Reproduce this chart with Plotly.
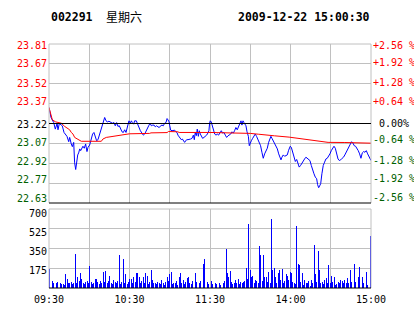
import plotly.graph_objects as go

# ---------------- data ----------------
prev_close = 23.22
pct_levels = [-2.56, -1.92, -1.28, -0.64, 0.00, 0.64, 1.28, 1.92, 2.56]
price_ticks = ["22.63", "22.77", "22.92", "23.07", "23.22", "23.37", "23.52", "23.67", "23.81"]
pct_ticks = ["-2.56 %", "-1.92 %", "-1.28 %", "-0.64 %", "\u00a00.00%", "+0.64 %", "+1.28 %", "+1.92 %", "+2.56 %"]
time_labels = ["09:30", "", "10:30", "", "11:30", "", "14:00", "", "15:00"]
vol_ticks = [175, 350, 525, 700]

# price line: minute offset from 09:30 (trading minutes) and price
price_min = [0, 1.5, 3.5, 4.7, 6.0, 6.7, 7.7, 8.7, 9.9, 11.2, 12.4, 13.4, 14.7, 15.4, 16.6, 17.4, 18.4, 19.1, 19.9, 20.6,
             21.4, 22.1, 22.9, 23.6, 24.3, 25.3, 26.3, 27.3, 28.3, 29.1, 30.3, 31.5, 32.5, 33.5, 34.5, 35.5, 36.5, 37.5, 38.5, 39.5,
             40.5, 41.5, 42.5, 43.5, 44.7, 45.9, 47.2, 48.4, 49.4, 50.4, 51.4, 52.4, 53.4, 54.4, 55.4, 56.4, 57.4, 58.4,
             59.6, 60.6, 61.4, 62.1, 63.1, 63.8, 65.1, 65.8, 66.8, 68.1, 69.3, 70.3, 71.3, 72.3, 73.3, 74.3, 75.3, 76.3, 77.3, 78.3,
             79.2, 80.2, 81.2, 82.2, 83.2, 84.2, 85.2, 86.2, 87.2, 88.0, 88.7, 89.5, 90.0, 90.7, 91.7, 92.7, 93.7, 94.4, 95.4, 96.1,
             96.9, 97.9, 98.6, 99.4, 100.4, 101.1, 101.8, 102.6, 103.6, 104.6, 105.6, 106.6, 107.6, 108.3, 109.0, 109.8, 110.5, 111.3,
             112.0, 112.8, 113.5, 114.5, 115.5, 116.5, 117.5, 118.5, 119.2, 119.7, 120.2,
             120.9, 121.7, 122.7, 123.5, 124.5, 125.4, 126.4, 127.4, 128.4, 129.4, 130.4, 131.4, 132.4, 133.4, 134.4, 135.4, 136.4,
             137.4, 138.3, 139.3, 140.3, 141.3, 142.3, 143.1, 143.8, 144.6, 145.3, 146.1, 146.8, 147.6, 148.6, 149.3, 150.0, 150.8,
             151.8, 152.7, 153.7, 154.7, 155.7, 156.7, 157.7, 158.7, 159.7, 160.7, 161.7, 162.7, 163.7, 164.7, 165.4, 166.2, 167.2,
             168.2, 169.2, 170.2, 171.2, 172.1, 172.9, 173.6, 174.6, 175.6, 176.6, 177.6, 178.6,
             179.8, 180.6, 181.3, 182.1, 182.8, 183.6, 184.6, 185.5, 186.5, 187.5, 188.5, 189.5, 190.5, 191.5, 192.5, 193.5, 194.5,
             195.5, 196.5, 197.5, 198.5, 199.5, 200.2, 201.0, 201.7, 202.5, 203.4, 204.4, 205.4, 206.4, 207.4, 208.4, 209.4, 210.4,
             211.4, 212.4, 213.4, 214.4, 215.4, 216.4, 217.4, 218.5, 219.5, 220.5, 221.5, 222.5, 223.5, 224.5, 225.5, 226.5, 227.5,
             228.5, 229.5, 230.5, 231.5, 232.5, 233.5, 234.5, 235.5, 236.5, 237.5, 238.5, 239.5, 240]
price = [23.34, 23.265, 23.227, 23.178, 23.22, 23.173, 23.22, 23.213, 23.203, 23.153, 23.133, 23.124, 23.084, 23.116, 23.067, 23.047, 23.079, 22.926, 22.876, 22.943,
         22.985, 23.0, 23.03, 23.017, 23.035, 23.05, 23.035, 23.067, 23.01, 23.042, 23.059, 23.099, 23.141, 23.153, 23.124, 23.091, 23.099, 23.133, 23.158, 23.183,
         23.227, 23.265, 23.24, 23.232, 23.237, 23.232, 23.222, 23.227, 23.203, 23.227, 23.198, 23.203, 23.183, 23.158, 23.153, 23.173, 23.153, 23.203,
         23.24, 23.222, 23.24, 23.227, 23.215, 23.24, 23.24, 23.222, 23.19, 23.166, 23.148, 23.133, 23.141, 23.158, 23.183, 23.203, 23.222, 23.203, 23.208, 23.208,
         23.195, 23.203, 23.195, 23.19, 23.203, 23.208, 23.203, 23.222, 23.227, 23.257, 23.247, 23.232, 23.203, 23.17, 23.166, 23.166, 23.17, 23.16, 23.153, 23.133,
         23.124, 23.109, 23.099, 23.104, 23.091, 23.079, 23.089, 23.099, 23.099, 23.099, 23.104, 23.109, 23.133, 23.099, 23.153, 23.129, 23.178, 23.124,
         23.166, 23.141, 23.124, 23.109, 23.116, 23.124, 23.133, 23.15, 23.166, 23.222, 23.24,
         23.232, 23.208, 23.166, 23.141, 23.133, 23.141, 23.133, 23.153, 23.166, 23.148, 23.153, 23.133, 23.116, 23.128, 23.133, 23.141, 23.158,
         23.148, 23.166, 23.19, 23.173, 23.203, 23.222, 23.24, 23.208, 23.24, 23.227, 23.215, 23.203, 23.158, 23.124, 23.054, 23.079, 23.091,
         23.109, 23.128, 23.141, 23.124, 23.104, 23.079, 23.054, 23.005, 22.96, 22.993, 23.017, 23.035, 23.079, 23.116, 23.124, 23.109, 23.091,
         23.074, 23.054, 23.03, 22.993, 22.968, 22.948, 22.968, 22.985, 22.975, 22.98, 22.985, 23.02,
         23.05, 23.042, 23.017, 23.005, 22.98, 22.936, 22.951, 22.918, 22.894, 22.906, 22.926, 22.943, 22.955, 22.968, 22.96, 22.951, 22.943,
         22.906, 22.869, 22.844, 22.819, 22.807, 22.763, 22.74, 22.753, 22.77, 22.844, 22.906, 22.931, 22.955, 22.96, 22.975, 22.993, 23.017,
         23.035, 23.05, 23.035, 22.993, 22.955, 22.943, 22.948, 22.96, 22.968, 22.985, 23.005, 23.03, 23.054, 23.074, 23.084, 23.074, 23.054,
         23.05, 23.035, 23.017, 22.993, 22.96, 23.0, 23.01, 23.005, 23.017, 22.993, 22.975, 22.955, 22.943]

# average price line
avg_min = [0, 1.2, 2.5, 5.0, 9.2, 11.7, 14.2, 15.4, 16.6, 17.9, 19.1, 21.6, 24.1, 39.0, 40.2, 42.7, 46.4, 51.4, 55.2, 60,
           75, 76, 88, 89, 96, 97, 120, 143, 150, 156, 161, 168, 179, 186, 193, 200, 208, 220, 228, 240]
avg_price = [23.339, 23.289, 23.247, 23.232, 23.222, 23.198, 23.178, 23.173, 23.153, 23.141, 23.116, 23.099, 23.087, 23.087, 23.104,
             23.116, 23.121, 23.128, 23.136, 23.143, 23.146, 23.15, 23.152, 23.16, 23.158, 23.153, 23.153, 23.15, 23.146, 23.14,
             23.133, 23.128, 23.118, 23.109, 23.099, 23.086, 23.079, 23.078, 23.074, 23.073]

# per-minute volume (241 bars)
volume = [168, 55, 62, 48, 57, 40, 52, 35, 45, 38,
          38, 30, 124, 80, 45, 40, 55, 35, 42, 301,
          48, 100, 60, 136, 80, 45, 38, 50, 62, 40,
          195, 55, 35, 42, 80, 78, 50, 38, 60, 45,
          144, 52, 153, 40, 65, 110, 48, 36, 75, 55,
          42, 60, 292, 38, 50, 257, 45, 124, 35, 52,
          80, 80, 48, 94, 55, 136, 130, 94, 40, 62,
          100, 45, 130, 106, 38, 55, 159, 71, 42, 47,
          35, 50, 42, 38, 71, 45, 30, 55, 94, 60,
          124, 145, 35, 48, 40, 65, 30, 94, 130, 42,
          71, 38, 52, 86, 94, 45, 35, 60, 100, 136,
          55, 47, 40, 62, 48, 212, 257, 50, 56, 38,
          124, 62, 35, 18, 40, 35, 22, 45, 30, 56,
          47, 60, 345, 136, 100, 153, 56, 38, 45, 71,
          42, 76, 35, 55, 40, 50, 62, 177, 80, 567,
          159, 100, 106, 45, 71, 65, 40, 372, 292, 60,
          292, 94, 94, 52, 145, 40, 611, 159, 177, 100,
          48, 136, 159, 71, 168, 41, 60, 124, 106, 71,
          145, 136, 56, 47, 38, 552, 212, 203, 55, 130,
          27, 71, 47, 40, 65, 21, 71, 45, 381, 124,
          55, 328, 159, 41, 56, 35, 71, 86, 41, 203,
          45, 106, 56, 94, 30, 38, 56, 48, 71, 65,
          40, 71, 47, 86, 41, 159, 50, 71, 212, 56,
          40, 100, 186, 130, 100, 45, 65, 145, 27, 50,
          461]

# ---------------- layout constants ----------------
W, H = 414, 314
ML, MR, MT, MB = 49, 43, 44, 26
plot_h = H - MT - MB  # 244
price_dom0 = (288 - 203) / plot_h
vol_dom1 = (288 - 209) / plot_h

RED = "#FF0000"
GREEN = "#006000"
GRID = "#C0C0C0"
MONO = "DejaVu Sans Mono"

lo = prev_close * (1 + pct_levels[0] / 100)
hi = prev_close * (1 + pct_levels[-1] / 100)
price_levels = [prev_close * (1 + p / 100) for p in pct_levels]

# small vertical nudges (px, up positive) of the labels, as in the reference
left_shift = [5, 4, 2, 1, -1, 2, 0, 0, -1]
right_shift = [6, 5, 3, 4, 0, 2, 1, 1, -1]
vol_shift = [-2, -3, -4, -4]


def color_of(p):
    return RED if p > 0 else (GREEN if p < 0 else "black")


n = len(volume)
bar_x = [(i + 0.5) * 240 / n for i in range(n)]

fig = go.Figure()
fig.add_trace(go.Scatter(x=price_min, y=price, mode="lines", line=dict(color="#0000FF", width=1),
                         xaxis="x", yaxis="y", hoverinfo="skip"))
fig.add_trace(go.Scatter(x=avg_min, y=avg_price, mode="lines", line=dict(color=RED, width=1),
                         xaxis="x", yaxis="y", hoverinfo="skip"))
fig.add_trace(go.Bar(x=bar_x, y=volume, width=0.7 * 240 / n,
                     marker=dict(color="#0000FF", line=dict(width=0)),
                     xaxis="x2", yaxis="y3", hoverinfo="skip"))

tick_font = dict(family=MONO, size=10, color="black")
grid_vals = list(range(0, 241, 30))

fig.update_layout(
    width=W, height=H,
    margin=dict(l=ML, r=MR, t=MT, b=MB, pad=0, autoexpand=False),
    paper_bgcolor="white", plot_bgcolor="white",
    showlegend=False, bargap=0,
    xaxis=dict(domain=[0, 1], anchor="y", range=[0, 240], tickvals=grid_vals, showticklabels=False,
               showgrid=True, gridcolor=GRID, gridwidth=1, zeroline=False, showline=False, ticks="",
               automargin=False),
    yaxis=dict(domain=[price_dom0, 1], range=[lo, hi], tickvals=price_levels, showticklabels=False,
               showgrid=True, gridcolor=GRID, gridwidth=1, zeroline=False, showline=False, ticks="",
               automargin=False),
    xaxis2=dict(domain=[0, 1], anchor="y3", range=[0, 240], tickvals=grid_vals, ticktext=time_labels,
                showgrid=True, gridcolor=GRID, gridwidth=1, zeroline=False, showline=False, ticks="",
                tickfont=tick_font, tickangle=0, automargin=False, ticklabelstandoff=4),
    yaxis3=dict(domain=[0, vol_dom1], range=[0, 700], tickvals=vol_ticks, showticklabels=False,
                showgrid=True, gridcolor=GRID, gridwidth=1, zeroline=False, showline=False, ticks="",
                automargin=False),
)

shapes = []
for x0, y0, x1, y1, c in [(0, 0, 0, 1, GRID), (1, 0, 1, 1, GRID), (0, 1, 1, 1, GRID), (0, 0, 1, 0, "black")]:
    shapes.append(dict(type="line", xref="paper", yref="y domain", x0=x0, x1=x1, y0=y0, y1=y1,
                       line=dict(color=c, width=1)))
shapes.append(dict(type="line", xref="paper", yref="y", x0=0, x1=1, y0=prev_close, y1=prev_close,
                   line=dict(color="black", width=1)))
for x0, y0, x1, y1, c in [(0, 0, 0, 1, GRID), (1, 0, 1, 1, GRID), (0, 1, 1, 1, GRID), (0, 0, 1, 0, "black")]:
    shapes.append(dict(type="line", xref="paper", yref="y3 domain", x0=x0, x1=x1, y0=y0, y1=y1,
                       line=dict(color=c, width=1)))
fig.update_layout(shapes=shapes)

# axis labels (price, percentage, volume)
for lvl, txt, p, s in zip(price_levels, price_ticks, pct_levels, left_shift):
    fig.add_annotation(text=txt, x=0, y=lvl, xref="paper", yref="y", xanchor="right", yanchor="middle",
                       xshift=-1, yshift=s, showarrow=False, borderpad=0,
                       font=dict(family=MONO, size=10, color=color_of(p)))
for lvl, txt, p, s in zip(price_levels, pct_ticks, pct_levels, right_shift):
    fig.add_annotation(text=txt, x=1, y=lvl, xref="paper", yref="y", xanchor="left", yanchor="middle",
                       xshift=1, yshift=s, showarrow=False, borderpad=0,
                       font=dict(family=MONO, size=10, color=color_of(p)))
for v, s in zip(vol_ticks, vol_shift):
    fig.add_annotation(text=str(v), x=0, y=v, xref="paper", yref="y3", xanchor="right", yanchor="middle",
                       xshift=-1, yshift=s, showarrow=False, borderpad=0,
                       font=dict(family=MONO, size=10, color="black"))


def px_x(px):
    return (px - ML) / (W - ML - MR)


def px_y(py):
    return (H - MB - py) / plot_h


title_font = dict(family=MONO, size=11.5, color="black")
fig.add_annotation(text="<b>002291</b>", x=px_x(50), y=px_y(16.5), xref="paper", yref="paper",
                   xanchor="left", yanchor="middle", showarrow=False, font=title_font, borderpad=0)
fig.add_annotation(text="星期六", x=px_x(105), y=px_y(16), xref="paper", yref="paper",
                   xanchor="left", yanchor="middle", showarrow=False, borderpad=0,
                   font=dict(family="Noto Sans CJK SC", size=12, color="black"))
fig.add_annotation(text="<b>2009-12-22 15:00:30</b>", x=px_x(371), y=px_y(16.5), xref="paper", yref="paper",
                   xanchor="right", yanchor="middle", showarrow=False, font=title_font, borderpad=0)

fig.write_html("out.html", config=dict(displayModeBar=False, staticPlot=True))
